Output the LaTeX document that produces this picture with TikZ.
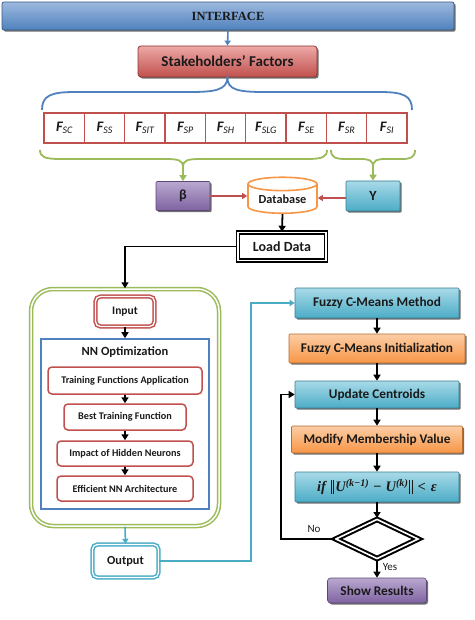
\documentclass[tikz,border=0pt]{standalone}
\usepackage{fontspec}
\setmainfont{Carlito}
\newfontfamily\tnr{Liberation Serif}
\usetikzlibrary{shapes.geometric,shadows,arrows.meta,calc}
\definecolor{cblue}{HTML}{4F81BD}
\definecolor{cbluedark}{HTML}{385D8A}
\definecolor{cbluelight}{HTML}{9DB9DE}
\definecolor{cred}{HTML}{C0504D}
\definecolor{credlight}{HTML}{EDA9A7}
\definecolor{creddark}{HTML}{8C3836}
\definecolor{cgreen}{HTML}{9BBB59}
\definecolor{cpurple}{HTML}{7F63A1}
\definecolor{cpurplelight}{HTML}{B9A8D0}
\definecolor{cpurpledark}{HTML}{5C4776}
\definecolor{caqua}{HTML}{4BACC6}
\definecolor{caqualight}{HTML}{A8DAE8}
\definecolor{caquadark}{HTML}{357D91}
\definecolor{corange}{HTML}{F79646}
\definecolor{corangelight}{HTML}{FCCDA5}
\definecolor{corangedark}{HTML}{B66D31}
\definecolor{txt}{HTML}{1A1A1A}
\tikzset{
  base/.style={rectangle, inner sep=0pt, text=txt, font=\bfseries},
  shad/.style={drop shadow={shadow xshift=1.6pt, shadow yshift=-1.6pt, fill=black!70, opacity=0.8}},
  bluebar/.style={base, shad, rounded corners=2pt, draw=cbluedark, line width=0.8pt, top color=cbluelight, bottom color=cblue},
  redbar/.style={base, shad, rounded corners=3pt, draw=creddark, line width=0.8pt, top color=credlight, bottom color=cred},
  purplebar/.style={base, shad, rounded corners=1pt, draw=cpurpledark, line width=0.6pt, top color=cpurplelight, bottom color=cpurple},
  aquabar/.style={base, shad, rounded corners=1pt, draw=caquadark, line width=0.6pt, top color=caqualight, bottom color=caqua},
  orangebar/.style={base, shad, rounded corners=1pt, draw=corangedark, line width=0.6pt, top color=corangelight, bottom color=corange},
  factor/.style={base, draw=cred, line width=1.3pt, fill=white, minimum width=40.3pt, minimum height=30pt, font=\bfseries\itshape\fontsize{14.5}{14.5}\selectfont},
  innerbox/.style={base, draw=cred, line width=1.5pt, rounded corners=4pt, fill=white, font=\bfseries\fontsize{10.2}{11}\selectfont},
  blk/.style={-{Triangle[length=6pt,width=7pt]}, line width=1.8pt, black},
  bluearrow/.style={-{Triangle[length=5pt,width=6pt]}, line width=1.6pt, cblue},
  aquaarrow/.style={-{Triangle[length=5pt,width=6pt]}, line width=1.6pt, caqua},
  redarrow/.style={-{Triangle[length=5pt,width=6pt]}, line width=1.5pt, cred},
  greenarrow/.style={-{Triangle[length=6pt,width=7pt]}, line width=1.8pt, cgreen},
  bigtxt/.style={font=\bfseries\fontsize{13.3}{13.3}\selectfont},
}
\newcommand{\fac}[1]{F\raisebox{-2.5pt}{\fontsize{10}{10}\selectfont\mdseries #1}}
\newcommand{\dbar}{\rule[-2.5pt]{1pt}{14pt}\hspace{1.3pt}\rule[-2.5pt]{1pt}{14pt}}
\newcommand{\formulatext}{{\tnr\bfseries\itshape if\hspace{5pt}\dbar\hspace{1pt}U\textsuperscript{(k−1)}\hspace{4pt}\upshape−\hspace{4pt}\itshape U\textsuperscript{(k)}\hspace{1pt}\dbar\hspace{5pt}\upshape<\hspace{5pt}\itshape ε}}
\begin{document}
\begin{tikzpicture}[x=1pt, y=-1pt]
\useasboundingbox (0,0) rectangle (474,620);
% top
\node[bluebar, minimum width=452pt, minimum height=28pt, font=\tnr\bfseries\fontsize{12.5}{12.5}\selectfont] (iface) at (228,16) {INTERFACE};
\node[redbar, minimum width=179pt, minimum height=31pt, font=\bfseries\fontsize{15}{15}\selectfont] (stake) at (227.5,61.5) {Stakeholders’ Factors};
\draw[bluearrow] (iface.south) -- (stake.north);
% factors
\node[factor] (f1) at (64.2,128) {\fac{SC}};
\node[factor] (f2) at (104.5,128) {\fac{SS}};
\node[factor] (f3) at (144.8,128) {\fac{SIT}};
\node[factor] (f4) at (185.2,128) {\fac{SP}};
\node[factor] (f5) at (225.5,128) {\fac{SH}};
\node[factor] (f6) at (265.8,128) {\fac{SLG}};
\node[factor] (f7) at (306.2,128) {\fac{SE}};
\node[factor] (f8) at (346.5,128) {\fac{SR}};
\node[factor] (f9) at (386.8,128) {\fac{SI}};
% blue brace
\coordinate (bl) at (42,110);
\coordinate (br) at (412,110);
\draw[cblue, line width=1.8pt] (bl) .. controls (42,96) and (50,92) .. (75,92) -- (190,92) .. controls (215,92) and (227,90) .. (stake.south)
  .. controls (227,90) and (239,92) .. (264,92) -- (380,92) .. controls (404,92) and (412,96) .. (br);
% green braces
\coordinate (gl1) at (40,150);
\coordinate (gl2) at (327,150);
\coordinate (gr1) at (331,150);
\coordinate (gr2) at (415,150);
% beta, db, Y
\node[purplebar, minimum width=54pt, minimum height=29pt, font=\bfseries\fontsize{14}{14}\selectfont] (beta) at (183,196) {β};
\node[cylinder, shape border rotate=90, aspect=0.28, draw=corange, line width=1.6pt, fill=white, minimum width=69pt, minimum height=36pt, inner sep=0pt, text=txt, font=\bfseries\fontsize{12.3}{12.3}\selectfont] (db) at (282.5,199) {Database};
\node[aquabar, minimum width=54pt, minimum height=30pt, font=\bfseries\fontsize{14}{14}\selectfont] (gam) at (373,196) {Y};
\draw[greenarrow] (gl1) .. controls (40,157) and (45,159) .. (60,159) -- (165,159) .. controls (178,159) and (183,160) .. (183,167) -- (beta.north);
\draw[cgreen, line width=1.8pt] (183,167) .. controls (183,160) and (188,159) .. (201,159) -- (307,159) .. controls (322,159) and (327,157) .. (gl2);
\draw[greenarrow] (gr1) .. controls (331,157) and (335,159) .. (345,159) -- (360,159) .. controls (369,159) and (373,160) .. (373,167) -- (gam.north);
\draw[cgreen, line width=1.8pt] (373,167) .. controls (373,160) and (377,159) .. (386,159) -- (402,159) .. controls (411,159) and (415,157) .. (gr2);
\coordinate (ry) at (0,198);
\draw[redarrow] (beta.east) -- (beta.east -| db.west);
\draw[redarrow] (gam.west |- ry) -- (db.east |- ry);
% load data
\node[base, draw=black, line width=1.5pt, double=white, double distance=1.6pt, minimum width=88pt, minimum height=28pt, fill=white, font=\bfseries\fontsize{14}{14}\selectfont] (load) at (282,246.5) {Load Data};
\draw[blk] (db.south) -- (load.north);
% left container
\node[base, draw=cgreen, line width=1.5pt, double=white, double distance=1.5pt, rounded corners=22pt, minimum width=188pt, minimum height=237pt] (cont) at (125,407.5) {};
\draw[blk] (load.west) -| (cont.north);
\node[base, draw=cred, line width=1.5pt, double=white, double distance=1.3pt, rounded corners=5pt, minimum width=59pt, minimum height=30pt, font=\bfseries\fontsize{11.5}{11.5}\selectfont] (input) at (125,311.5) {Input};
\node[base, draw=cblue, line width=1.6pt, minimum width=168pt, minimum height=170pt] (nn) at (125,424) {};
\node[base, font=\bfseries\fontsize{12.5}{12.5}\selectfont] (nnt) at (125,352) {NN Optimization};
\draw[blk] (input.south) -- (nn.north);
\node[innerbox, minimum width=154pt, minimum height=27pt] (tfa) at (125,380.5) {Training Functions Application};
\node[innerbox, minimum width=122pt, minimum height=26pt] (btf) at (125,417) {Best Training Function};
\node[innerbox, minimum width=136pt, minimum height=25pt] (ihn) at (125,453.5) {Impact of Hidden Neurons};
\node[innerbox, minimum width=136pt, minimum height=25pt] (enna) at (125,488.5) {Efficient NN Architecture};
\draw[blk, line width=1.5pt] (tfa.south) -- (btf.north);
\draw[blk, line width=1.5pt] (btf.south) -- (ihn.north);
\draw[blk, line width=1.5pt] (ihn.south) -- (enna.north);
\node[base, draw=caqua, line width=1.5pt, double=white, double distance=1.3pt, rounded corners=5pt, minimum width=66pt, minimum height=33pt, font=\bfseries\fontsize{12.3}{12.3}\selectfont] (out) at (125.5,561) {Output};
\draw[aquaarrow] (cont.south) -- (out.north);
% right column
\node[aquabar, bigtxt, minimum width=164pt, minimum height=30pt] (fcm) at (377,303) {Fuzzy C-Means Method};
\node[orangebar, bigtxt, minimum width=176pt, minimum height=29pt] (fci) at (377,348.5) {Fuzzy C-Means Initialization};
\node[aquabar, bigtxt, minimum width=164pt, minimum height=27pt] (uc) at (377,394.5) {Update Centroids};
\node[orangebar, bigtxt, minimum width=171pt, minimum height=27pt] (mmv) at (377,439.5) {Modify Membership Value};
\node[aquabar, minimum width=164pt, minimum height=30pt, font=\bfseries\fontsize{14.5}{14.5}\selectfont] (ifb) at (377,487) {\formulatext};
\node[diamond, draw=black, line width=2pt, double=white, double distance=1.6pt, fill=white, aspect=2.07, minimum width=83pt, minimum height=40pt, inner sep=0pt] (dec) at (377,539) {};
\node[purplebar, bigtxt, rounded corners=3pt, minimum width=99pt, minimum height=25pt] (show) at (377,590.5) {Show Results};
\coordinate (oc) at (251,561);
\draw[aquaarrow] (out.east) -| (oc) |- (fcm.west);
\draw[blk] (fcm.south) -- (fci.north);
\draw[blk] (fci.south) -- (uc.north);
\draw[blk] (uc.south) -- (mmv.north);
\draw[blk] (mmv.south) -- (ifb.north);
\draw[blk] (ifb.south) -- (dec.north);
\coordinate (nc) at (281,539);
\draw[blk] (dec.west) -- (nc) |- (uc.west);
\node[base, font=\mdseries\fontsize{11}{11}\selectfont] (no) at (314,529) {No};
\draw[blk] (dec.south) -- (show.north);
\node[base, font=\mdseries\fontsize{11}{11}\selectfont] (yes) at (390,567) {Yes};
\end{tikzpicture}
\end{document}
